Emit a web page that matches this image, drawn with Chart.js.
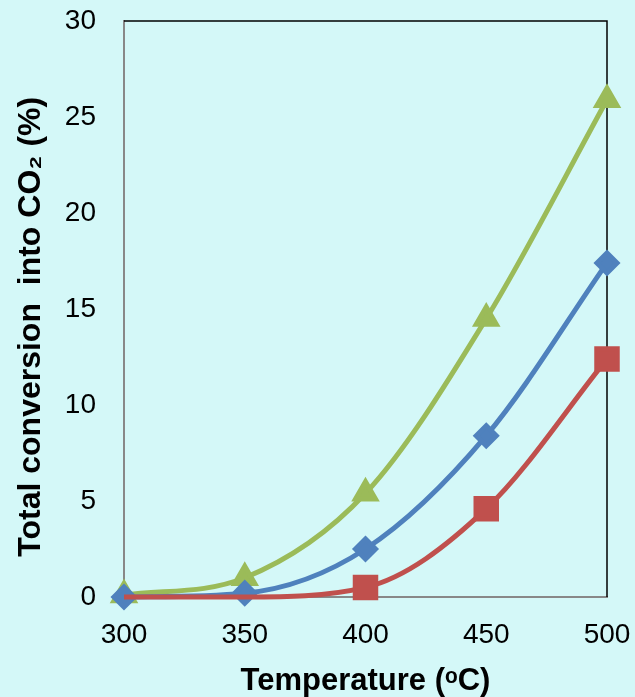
<!DOCTYPE html>
<html>
<head>
<meta charset="utf-8">
<script src="https://cdn.jsdelivr.net/npm/chart.js@4/dist/chart.umd.min.js"></script>
<style>
  html, body { margin: 0; padding: 0; background: #d4f8f8; }
  #wrap { width: 635px; height: 697px; }
</style>
</head>
<body>
<div id="wrap"><canvas id="myChart" width="635" height="697"></canvas></div>
<script>
let temps = [300, 350, 400, 450, 500];
let triangulo = [0.1, 1.0, 5.4, 14.5, 25.9]; // verde
let losango = [0.0, 0.2, 2.5, 8.4, 17.4];    // azul
let quadrado = [0.0, 0.0, 0.5, 4.6, 12.4];   // vermelho
let yTicks = [0, 5, 10, 15, 20, 25, 30];

function pts(arr) {
    return temps.map((t, i) => ({ x: t, y: arr[i] }));
}

// bordas superior e direita em preto
let bordas = {
    id: 'bordas',
    beforeDatasetsDraw(chart) {
        let c = chart.ctx, a = chart.chartArea;
        c.save();
        c.strokeStyle = '#000';
        c.lineWidth = 1.5;
        c.beginPath();
        c.moveTo(a.left, a.top);
        c.lineTo(a.right, a.top);
        c.lineTo(a.right, a.bottom);
        c.stroke();
        c.restore();
    }
};

let ctx = document.getElementById('myChart').getContext('2d');
let myChart = new Chart(ctx, {
    type: 'line',
    data: {
        datasets: [
            {
                data: pts(quadrado),
                borderColor: '#C0504D',
                backgroundColor: '#C0504D',
                borderWidth: 5,
                pointStyle: 'rect',
                pointRadius: [0, 0, 14.5, 14.5, 14.5],
                cubicInterpolationMode: 'monotone',
                clip: false
            },
            {
                data: pts(losango),
                borderColor: '#4F81BD',
                backgroundColor: '#4F81BD',
                borderWidth: 5,
                pointStyle: 'rectRot',
                pointRadius: 10,
                cubicInterpolationMode: 'monotone',
                clip: false
            },
            {
                data: pts(triangulo),
                borderColor: '#9BBB59',
                backgroundColor: '#9BBB59',
                borderWidth: 5,
                pointStyle: 'triangle',
                pointRadius: 11.5,
                cubicInterpolationMode: 'monotone',
                clip: false
            }
        ]
    },
    options: {
        responsive: false,
        animation: false,
        layout: { padding: { left: 0, right: 28, top: 21, bottom: 0 } },
        plugins: { legend: { display: false }, tooltip: { enabled: false } },
        scales: {
            x: {
                type: 'linear',
                min: 300,
                max: 500,
                afterBuildTicks: (s) => { s.ticks = temps.map(v => ({ value: v })); },
                afterFit: (s) => { s.height = 100; s.paddingLeft = 0; s.paddingRight = 0; },
                grid: { display: false, drawTicks: true, tickLength: 7, tickColor: '#888' },
                border: { color: '#888', width: 2 },
                ticks: { color: '#000', font: { family: 'Liberation Sans', size: 28 }, padding: 14 },
                title: {
                    display: true,
                    text: 'Temperature (ᵒC)',
                    color: '#000',
                    font: { family: 'Liberation Sans', size: 31, weight: 'bold', lineHeight: 1.0 },
                    padding: { top: 0, bottom: 0 }
                }
            },
            y: {
                min: 0,
                max: 30,
                afterBuildTicks: (s) => { s.ticks = yTicks.map(v => ({ value: v })); },
                afterFit: (s) => { s.width = 124; s.paddingTop = 0; s.paddingBottom = 0; },
                grid: { display: false, drawTicks: true, tickLength: 7, tickColor: '#888' },
                border: { color: '#888', width: 2 },
                ticks: { color: '#000', font: { family: 'Liberation Sans', size: 28 }, padding: 21 },
                title: {
                    display: true,
                    text: 'Total conversion  into CO₂ (%)    ',
                    color: '#000',
                    font: { family: 'Liberation Sans', size: 32, weight: 'bold', lineHeight: 1.0 },
                    padding: { top: 15, bottom: 0 }
                }
            }
        }
    },
    plugins: [bordas]
});
</script>
</body>
</html>
